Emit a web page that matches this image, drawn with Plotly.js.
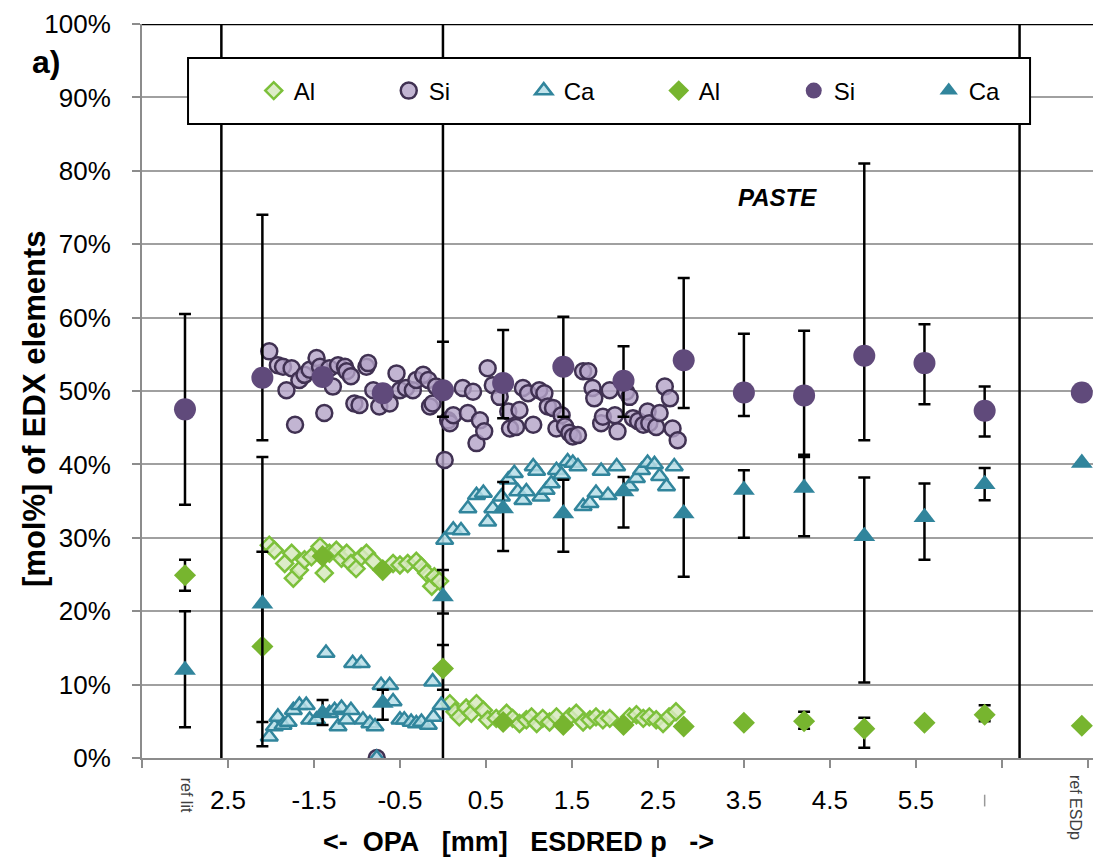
<!DOCTYPE html>
<html>
<head>
<meta charset="utf-8">
<script src="https://cdn.plot.ly/plotly-3.0.1.min.js"></script>
<style>html,body{margin:0;padding:0;background:#fff;}#chart{width:1093px;height:861px;}</style>
</head>
<body>
<div id="chart"></div>
<script>
// ---- data (x in mm, values in mol%) ----
// open series (line profiles)
const alOpenX = [-2.02,-1.96,-1.84,-1.76,-1.74,-1.67,-1.61,-1.53,-1.43,-1.38,-1.32,-1.24,-1.18,-1.12,-1.07,-1.01,-0.95,-0.89,-0.81,-0.58,-0.50,-0.41,-0.31,-0.25,-0.19,-0.13,-0.10,-0.04,
  0.08,0.14,0.19,0.27,0.33,0.39,0.47,0.52,0.62,0.74,0.81,0.89,0.97,1.03,1.09,1.16,1.24,1.32,1.47,1.55,1.63,1.71,1.78,1.86,1.94,2.17,2.25,2.33,2.40,2.48,2.56,2.63,2.71];
const alOpenY = [29.0,28.3,26.5,27.9,24.5,25.6,27.0,27.4,28.8,25.2,27.9,28.3,27.2,27.9,26.5,25.8,27.4,27.9,26.8,26.5,26.3,26.5,26.8,26.1,25.2,23.4,24.7,24.1,
  7.4,6.3,5.6,6.8,6.1,7.4,6.5,5.2,5.4,6.1,5.4,4.7,5.2,5.6,4.7,5.4,4.9,5.6,5.6,6.1,4.9,5.2,5.6,5.2,5.4,5.6,5.9,5.4,5.6,5.2,4.7,5.6,6.3];

const siOpenX = [-2.02,-1.92,-1.86,-1.82,-1.76,-1.72,-1.67,-1.61,-1.55,-1.47,-1.43,-1.38,-1.32,-1.28,-1.22,-1.14,-1.12,-1.07,-1.03,-0.97,-0.89,-0.87,-0.81,-0.77,-0.74,-0.62,-0.54,-0.50,-0.43,-0.35,-0.31,-0.23,-0.17,-0.15,-0.12,-0.08,
  0.02,0.06,0.08,0.12,0.23,0.29,0.35,0.39,0.43,0.48,0.52,0.58,0.66,0.76,0.78,0.85,0.89,0.93,0.99,1.05,1.12,1.18,1.22,1.28,1.32,1.38,1.42,1.47,1.51,1.57,1.63,1.69,1.74,1.76,1.84,1.86,1.94,2.00,2.03,2.13,2.17,2.21,2.27,2.33,2.38,2.40,2.48,2.52,2.58,2.64,2.67,2.73];
const siOpenY = [55.4,53.5,53.3,50.1,53.1,45.4,51.5,52.2,52.9,54.5,53.3,47.0,53.1,50.6,53.5,53.3,52.7,52.0,48.3,48.1,53.3,53.8,50.1,0.0,47.9,48.3,52.4,50.1,50.4,50.1,51.5,52.2,51.5,47.9,48.3,50.6,
  40.6,46.0,45.6,46.7,50.4,47.0,49.9,42.9,46.0,44.5,53.1,50.8,49.2,47.2,44.9,45.1,47.4,50.4,49.7,45.4,50.1,49.7,47.9,47.7,44.9,46.7,45.2,44.3,43.8,44.0,52.7,52.7,50.4,49.0,45.6,46.5,50.1,46.7,44.5,49.9,49.2,46.3,45.9,45.4,47.2,45.6,45.1,47.0,50.6,49.0,44.9,43.3];

const caOpenX = [-2.02,-1.96,-1.92,-1.86,-1.80,-1.74,-1.67,-1.59,-1.55,-1.47,-1.36,-1.32,-1.26,-1.22,-1.18,-1.12,-1.07,-1.05,-0.95,-0.93,-0.85,-0.79,-0.77,-0.72,-0.62,-0.58,-0.50,-0.45,-0.37,-0.31,-0.25,-0.17,-0.12,-0.11,-0.02,
  0.02,0.12,0.21,0.29,0.39,0.47,0.52,0.58,0.68,0.76,0.83,0.87,0.93,0.97,1.05,1.09,1.14,1.20,1.26,1.32,1.38,1.45,1.51,1.57,1.63,1.71,1.78,1.84,1.92,2.02,2.17,2.25,2.31,2.38,2.46,2.52,2.60,2.69];
const caOpenY = [2.9,4.3,5.6,4.5,4.9,6.5,7.2,7.2,5.2,5.2,14.3,6.1,6.5,4.3,6.8,5.2,6.5,12.9,12.9,5.2,4.7,4.3,0.0,9.9,9.9,7.7,5.2,5.2,4.9,4.7,4.9,4.5,10.4,5.6,7.2,
  29.7,31.1,31.0,34.0,35.8,36.1,32.2,34.0,35.6,37.9,38.8,36.3,35.1,36.3,39.7,39.1,35.6,36.5,37.4,39.2,38.6,40.4,40.2,39.7,34.3,34.7,36.1,39.1,35.8,39.7,37.0,38.1,39.2,40.2,40.0,38.4,37.0,39.7];

// filled series (averages with error bars)
const avgX = [-3.0,-2.1,-1.4,-0.7,0.0,0.7,1.4,2.1,2.8,3.5,4.2,4.9,5.6,6.3,7.43];
const alAvg  = [24.9,15.2,27.5,25.6,12.2,4.9,4.5,4.5,4.3,4.8,5.0,4.0,4.8,5.9,4.4];
const alHigh = [27.0,28.1,27.5,25.6,15.4,4.9,4.5,4.5,4.3,4.8,6.3,5.5,4.8,7.2,4.4];
const alLow  = [22.8,4.9,27.5,25.6,9.3,4.9,4.5,4.5,4.3,4.8,4.0,1.4,4.8,5.0,4.4];
const siAvg  = [47.5,51.8,51.9,49.7,50.1,51.1,53.3,51.4,54.2,49.8,49.4,54.8,53.8,47.3,49.8];
const siHigh = [60.5,74.0,51.9,49.7,56.7,58.3,60.1,56.1,65.4,57.8,58.2,81.0,59.1,50.6,49.8];
const siLow  = [34.5,43.3,51.9,49.7,46.5,46.3,46.5,46.5,47.7,46.6,41.3,43.3,48.2,43.8,49.8];
const caAvg  = [12.0,21.0,6.1,7.5,22.0,34.0,33.3,36.3,33.3,36.5,36.8,30.2,32.8,37.3,40.2];
const caHigh = [20.0,41.0,7.9,9.3,25.6,37.6,37.9,38.3,38.2,39.2,41.0,38.2,37.4,39.5,40.2];
const caLow  = [4.2,1.6,4.5,5.2,19.7,28.2,28.1,31.4,24.7,30.0,30.2,10.3,27.0,35.1,40.2];

// axis ticks
const tickVals = [-3.5,-2.5,-1.5,-0.5,0.5,1.5,2.5,3.5,4.5,5.5,6.5,7.5];
const tickText = ["","2.5","-1.5","-0.5","0.5","1.5","2.5","3.5","4.5","5.5","",""];
// zone boundaries (mm)
const zoneLines = [-2.577, 0.0, 6.706];

// ---- styling ----
const FONT = "Liberation Sans, Arial, sans-serif";
const C = {
  alFill:"#77b52f", alLight:"rgba(215,233,190,0.85)", alEdge:"#7cc03a",
  siFill:"#604a7b", siLight:"rgba(179,162,199,0.8)", siEdge:"#403152",
  caFill:"#31859c", caLight:"rgba(183,222,232,0.85)", caEdge:"#31859c"
};
function diff(a,b){return a.map((v,i)=>Math.max(0,v-b[i]));}
function errBar(avg,hi,lo){
  return {type:"data",symmetric:false,array:diff(hi,avg),arrayminus:diff(avg,lo),
          color:"#000",thickness:2.5,width:6};
}

const traces = [
  {x:alOpenX,y:alOpenY,name:"Al",mode:"markers",type:"scatter",
   marker:{symbol:"diamond",size:13,color:C.alLight,line:{color:C.alEdge,width:2.5}}},
  {x:siOpenX,y:siOpenY,name:"Si",mode:"markers",type:"scatter",
   marker:{symbol:"circle",size:16,color:C.siLight,line:{color:C.siEdge,width:2.5}}},
  {x:caOpenX,y:caOpenY,name:"Ca",mode:"markers",type:"scatter",
   marker:{symbol:"triangle-up",size:15,color:C.caLight,line:{color:C.caEdge,width:2.5}}},
  {x:avgX,y:alAvg,name:"Al",mode:"markers",type:"scatter",error_y:errBar(alAvg,alHigh,alLow),
   marker:{symbol:"diamond",size:17,color:C.alFill,line:{width:0}}},
  {x:avgX,y:siAvg,name:"Si",mode:"markers",type:"scatter",error_y:errBar(siAvg,siHigh,siLow),
   marker:{symbol:"circle",size:22,color:C.siFill,line:{width:0}}},
  {x:avgX,y:caAvg,name:"Ca",mode:"markers",type:"scatter",error_y:errBar(caAvg,caHigh,caLow),
   marker:{symbol:"triangle-up",size:19,color:C.caFill,line:{width:0}}}
];

const shapes = zoneLines.map(v=>({type:"line",xref:"x",yref:"y",x0:v,x1:v,y0:0,y1:100,
  line:{color:"#000",width:2.5},layer:"between"}));
shapes.push({type:"line",xref:"paper",yref:"y",x0:0,x1:1,y0:100,y1:100,line:{color:"#000",width:2.5},layer:"between"});
// legend frame
shapes.push({type:"rect",xref:"paper",yref:"paper",x0:0.0484,x1:0.9338,y0:0.8638,y1:0.9537,
  line:{color:"#000",width:2},fillcolor:"#fff",layer:"above"});
// clipped tick label remnant
shapes.push({type:"line",xref:"x",yref:"paper",x0:6.3,x1:6.3,y0:-0.050,y1:-0.066,line:{color:"#999",width:1.5}});

const layout = {
  width:1093,height:861,
  margin:{l:142,r:0,t:24,b:103},
  paper_bgcolor:"#fff",plot_bgcolor:"#fff",
  font:{family:FONT,size:24,color:"#000"},
  showlegend:true,
  legend:{orientation:"h",x:0.1175,y:0.9087,xanchor:"left",yanchor:"middle",
    bgcolor:"rgba(0,0,0,0)",borderwidth:0,entrywidth:90,entrywidthmode:"pixels",
    font:{family:FONT,size:24,color:"#000"},itemclick:false},
  xaxis:{range:[-3.5,7.56],tickmode:"array",tickvals:tickVals,ticktext:tickText,
    showgrid:false,zeroline:false,showline:true,linecolor:"#8c8c8c",linewidth:2,
    ticks:"outside",ticklen:8,tickwidth:2,tickcolor:"#8c8c8c",ticklabelstandoff:10,
    tickfont:{family:FONT,size:26,color:"#000"}},
  yaxis:{range:[0,100],dtick:10,ticksuffix:"%",
    showgrid:true,gridcolor:"#a0a0a0",gridwidth:2,zeroline:false,
    showline:true,linecolor:"#8c8c8c",linewidth:2,
    ticks:"outside",ticklen:8,tickwidth:2,tickcolor:"#8c8c8c",ticklabelstandoff:16,
    tickfont:{family:FONT,size:26,color:"#000"}},
  shapes:shapes,
  annotations:[
    {xref:"paper",yref:"paper",x:-0.1125,y:0.4755,text:"<b>[mol%] of EDX elements</b>",textangle:-90,showarrow:false,
     font:{family:FONT,size:31,color:"#000"},xanchor:"center",yanchor:"middle"},
    {xref:"paper",yref:"paper",x:0.3954,y:-0.1144,
     text:"<b>&lt;-\u00a0\u00a0OPA\u00a0\u00a0\u00a0[mm]\u00a0\u00a0\u00a0ESDRED p\u00a0\u00a0\u00a0-&gt;</b>",showarrow:false,
     font:{family:FONT,size:27,color:"#000"},xanchor:"center",yanchor:"middle"},
    {xref:"paper",yref:"paper",x:-0.101,y:0.948,text:"<b>a)</b>",showarrow:false,
     font:{family:FONT,size:32,color:"#000"},xanchor:"center",yanchor:"middle"},
    {xref:"x",yref:"y",x:3.89,y:76.4,text:"<b><i>PASTE</i></b>",showarrow:false,
     font:{family:FONT,size:24,color:"#000"},xanchor:"center",yanchor:"middle"},
    {xref:"x",yref:"paper",x:-2.98,y:-0.051,text:"ref lit",textangle:90,showarrow:false,
     font:{family:FONT,size:16,color:"#404040"},xanchor:"center",yanchor:"middle"},
    {xref:"x",yref:"paper",x:7.35,y:-0.068,text:"ref ESDp",textangle:90,showarrow:false,
     font:{family:FONT,size:16,color:"#404040"},xanchor:"center",yanchor:"middle"}
  ]
};

Plotly.newPlot("chart",traces,layout,{displayModeBar:false,staticPlot:true});
</script>
</body>
</html>
